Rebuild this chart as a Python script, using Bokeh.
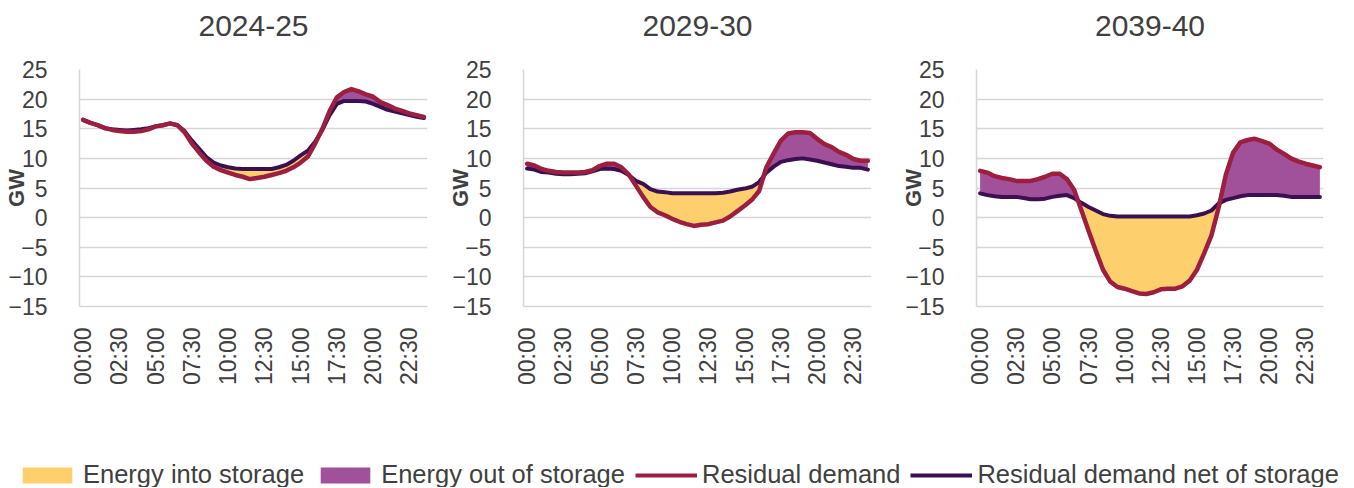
import numpy as np
from bokeh.plotting import figure
from bokeh.layouts import row, column
from bokeh.models import FixedTicker, Range1d, Legend, LegendItem, Title
from bokeh.embed import file_html
from bokeh.resources import INLINE

# ---------------- data ----------------
titles = ["2024-25", "2029-30", "2039-40"]
time_tick_index = [0, 5, 10, 15, 20, 25, 30, 35, 40, 45]
time_tick_labels = ["00:00", "02:30", "05:00", "07:30", "10:00",
                    "12:30", "15:00", "17:30", "20:00", "22:30"]
y_ticks = [-15, -10, -5, 0, 5, 10, 15, 20, 25]

resid_2024 = [16.5, 16.0, 15.6, 15.1, 14.8, 14.6, 14.5, 14.5, 14.6, 14.9, 15.4, 15.6,
              15.9, 15.6, 14.4, 12.5, 11.0, 9.6, 8.6, 8.0, 7.6, 7.2, 6.9, 6.5,
              6.7, 6.9, 7.2, 7.5, 7.9, 8.5, 9.3, 10.3, 12.5, 15.0, 18.0, 20.3,
              21.2, 21.7, 21.3, 20.8, 20.4, 19.5, 19.0, 18.4, 18.0, 17.6, 17.3, 17.0]
net_2024 = [16.5, 16.0, 15.6, 15.1, 14.9, 14.8, 14.7, 14.8, 14.9, 15.1, 15.4, 15.6,
            15.9, 15.6, 14.6, 13.0, 11.6, 10.2, 9.3, 8.8, 8.5, 8.3, 8.2, 8.2,
            8.2, 8.2, 8.2, 8.5, 8.9, 9.6, 10.5, 11.3, 12.8, 14.8, 17.3, 19.2,
            19.7, 19.7, 19.7, 19.6, 19.2, 18.7, 18.2, 17.9, 17.6, 17.3, 17.0, 16.8]

resid_2029 = [9.1, 8.8, 8.2, 7.9, 7.7, 7.6, 7.6, 7.6, 7.7, 8.0, 8.7, 9.1,
              9.1, 8.5, 7.3, 5.4, 3.5, 1.8, 0.9, 0.4, -0.2, -0.7, -1.1, -1.4,
              -1.2, -1.1, -0.8, -0.5, 0.2, 1.1, 2.0, 3.0, 4.5, 8.5, 10.8, 13.0,
              14.2, 14.4, 14.4, 14.3, 13.3, 12.4, 11.9, 11.1, 10.6, 9.9, 9.6, 9.6]
net_2029 = [8.3, 8.1, 7.7, 7.6, 7.4, 7.3, 7.3, 7.4, 7.5, 7.8, 8.2, 8.3,
            8.2, 7.9, 7.2, 6.2, 5.7, 4.8, 4.4, 4.3, 4.1, 4.1, 4.1, 4.1,
            4.1, 4.1, 4.1, 4.2, 4.4, 4.7, 4.9, 5.2, 6.0, 7.6, 8.6, 9.4,
            9.7, 9.9, 10.0, 9.8, 9.6, 9.3, 9.0, 8.7, 8.6, 8.4, 8.4, 8.1]

resid_2039 = [7.9, 7.6, 7.0, 6.7, 6.5, 6.2, 6.2, 6.2, 6.5, 6.9, 7.4, 7.4,
              6.5, 4.7, 1.3, -2.2, -5.6, -8.8, -10.8, -11.7, -12.0, -12.4, -12.8, -12.9,
              -12.6, -12.1, -12.0, -12.0, -11.6, -10.6, -8.8, -6.0, -3.0, 1.7, 7.3, 11.0,
              12.7, 13.1, 13.3, 12.9, 12.5, 11.5, 10.8, 10.0, 9.5, 9.1, 8.8, 8.5]
net_2039 = [4.1, 3.8, 3.6, 3.5, 3.5, 3.5, 3.3, 3.1, 3.1, 3.2, 3.5, 3.7,
            3.8, 3.3, 2.5, 1.8, 1.2, 0.6, 0.3, 0.2, 0.2, 0.2, 0.2, 0.2,
            0.2, 0.2, 0.2, 0.2, 0.2, 0.2, 0.4, 0.7, 1.2, 2.4, 3.0, 3.3,
            3.6, 3.8, 3.8, 3.8, 3.8, 3.8, 3.7, 3.5, 3.5, 3.5, 3.5, 3.5]

series_resid = [resid_2024, resid_2029, resid_2039]
series_net = [net_2024, net_2029, net_2039]

# ---------------- style ----------------
YELLOW = "#FDD06D"
PURPLE = "#A0519A"
RED = "#9C1F40"
DARK = "#3B1052"
GRID = "#D6D6D6"
TXT = "#404040"
FONT = "Liberation Sans"

widths = [444, 453, 441]
right_borders = [17, 26, 15]
LEFT = 79
TOP = 69
PANEL_H = 395


def make_panel(title, resid, net, width, rb):
    n = len(resid)
    x = np.arange(n)
    p = figure(width=width, height=PANEL_H,
               x_range=Range1d(-0.5, n - 0.5), y_range=Range1d(-15, 25),
               output_backend="svg", toolbar_location=None,
               min_border_left=LEFT, min_border_right=rb,
               min_border_top=TOP, min_border_bottom=PANEL_H - TOP - 237)
    # spacer (closest to the frame) then the real title
    p.add_layout(Title(text=" ", text_font_size="15px", standoff=15), "above")
    p.add_layout(Title(text=title, align="center", text_font=FONT, text_font_size="30px",
                       text_font_style="normal", text_color=TXT, standoff=0), "above")
    p.outline_line_color = None
    p.background_fill_color = "white"
    p.border_fill_color = "white"

    xf = np.linspace(0, n - 1, (n - 1) * 20 + 1)
    rf = np.interp(xf, x, resid)
    nf = np.interp(xf, x, net)
    p.varea(x=xf, y1=rf, y2=np.maximum(rf, nf), fill_color=YELLOW, fill_alpha=1.0)
    p.varea(x=xf, y1=nf, y2=np.maximum(rf, nf), fill_color=PURPLE, fill_alpha=1.0)

    p.line(x, net, line_color=DARK, line_width=4, line_join="round", line_cap="round")
    p.line(x, resid, line_color=RED, line_width=4.5, line_join="round", line_cap="round")

    p.yaxis.ticker = FixedTicker(ticks=y_ticks)
    p.yaxis.axis_line_color = GRID
    p.yaxis.axis_line_width = 1.5
    p.yaxis.major_tick_line_color = None
    p.yaxis.minor_tick_line_color = None
    p.yaxis.major_label_standoff = 26
    p.yaxis.major_label_text_font = FONT
    p.yaxis.major_label_text_font_size = "23px"
    p.yaxis.major_label_text_color = TXT
    p.yaxis.axis_label = "GW"
    p.yaxis.axis_label_text_font = FONT
    p.yaxis.axis_label_text_font_size = "22px"
    p.yaxis.axis_label_text_font_style = "bold"
    p.yaxis.axis_label_text_color = TXT
    p.yaxis.axis_label_standoff = -24

    p.xaxis.ticker = FixedTicker(ticks=time_tick_index)
    p.xaxis.major_label_overrides = {i: lab for i, lab in zip(time_tick_index, time_tick_labels)}
    p.xaxis.major_label_orientation = np.pi / 2
    p.xaxis.axis_line_color = GRID
    p.xaxis.axis_line_width = 1.5
    p.xaxis.major_tick_line_color = None
    p.xaxis.minor_tick_line_color = None
    p.xaxis.major_label_standoff = 15
    p.xaxis.major_label_text_font = FONT
    p.xaxis.major_label_text_font_size = "23px"
    p.xaxis.major_label_text_color = TXT

    p.xgrid.visible = False
    p.ygrid.grid_line_color = GRID
    p.ygrid.grid_line_width = 1.5
    return p


panels = [make_panel(t, r, nt, w, rb) for t, r, nt, w, rb in
          zip(titles, series_resid, series_net, widths, right_borders)]

# ---------------- legend ----------------
lf = figure(width=1354, height=92, x_range=Range1d(0, 1), y_range=Range1d(0, 1),
            x_axis_type=None, y_axis_type=None, output_backend="svg",
            toolbar_location=None, min_border=0)
lf.outline_line_color = None
lf.grid.visible = False
r1 = lf.varea(x=[5, 6], y1=[0, 0], y2=[1, 1], fill_color=YELLOW)
r2 = lf.varea(x=[5, 6], y1=[0, 0], y2=[1, 1], fill_color=PURPLE)
r3 = lf.line(x=[5, 6], y=[0, 0], line_color=RED, line_width=4)
r4 = lf.line(x=[5, 6], y=[0, 0], line_color=DARK, line_width=4)
legend_labels = ["Energy into storage", "Energy out of storage",
                 "Residual demand", "Residual demand net of storage"]
legend = Legend(items=[LegendItem(label=l, renderers=[r]) for l, r in
                       zip(legend_labels, [r1, r2, r3, r4])],
                orientation="horizontal", location=(16, -2),
                glyph_width=62, glyph_height=20, label_standoff=5, spacing=10,
                padding=0, margin=0, border_line_alpha=0, background_fill_alpha=0,
                label_text_font=FONT, label_text_font_size="25.5px",
                label_text_color=TXT)
lf.add_layout(legend, "center")

layout = column(row(*panels), lf)
open("out.html", "w").write(file_html(layout, INLINE))
